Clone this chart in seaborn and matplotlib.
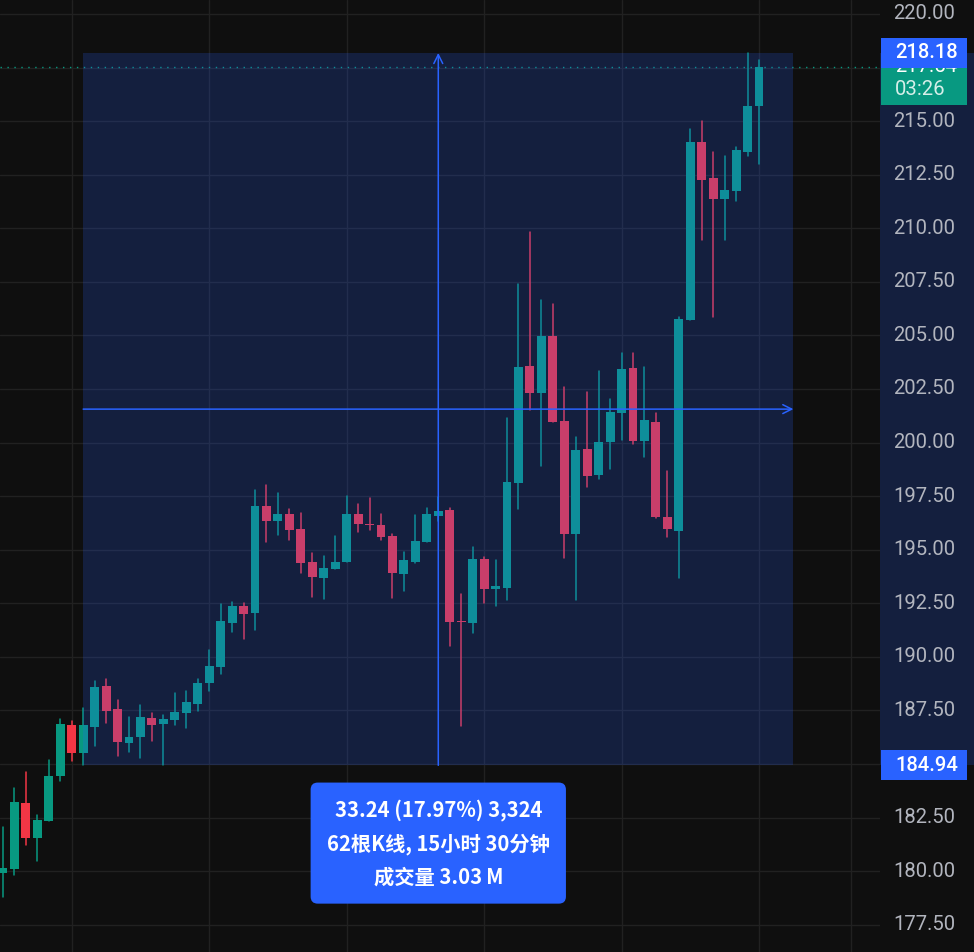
import numpy as np
import pandas as pd
import matplotlib
matplotlib.use("Agg")
import matplotlib.pyplot as plt
import seaborn as sns
from matplotlib.patches import Rectangle

# ---------------- data ----------------
opens = [179.92, 180.10, 183.18, 181.55, 182.34, 184.44, 186.82, 185.52, 186.73, 188.64,
         187.57, 185.98, 186.26, 187.15, 186.87, 187.06, 187.38, 187.80, 188.78, 189.53,
         191.58, 192.38, 192.05, 197.04, 196.34, 196.67, 195.97, 194.43, 193.68, 194.10,
         194.43, 196.67, 196.20, 196.15, 195.64, 193.87, 194.43, 195.36, 196.57, 196.86,
         191.68, 191.58, 194.57, 193.17, 193.22, 198.12, 203.57, 202.31, 204.97, 201.01,
         195.74, 199.70, 198.49, 200.03, 201.38, 203.48, 200.07, 200.96, 196.53, 195.88,
         205.72, 214.03, 212.35, 211.37, 211.74, 213.56, 215.71]
highs = [182.06, 183.88, 184.63, 182.62, 185.19, 187.10, 187.01, 187.62, 188.88, 188.97,
         187.99, 187.20, 187.76, 187.38, 187.29, 188.32, 188.41, 188.97, 190.32, 192.47,
         192.56, 192.52, 197.79, 198.02, 197.65, 196.90, 196.72, 194.85, 194.71, 195.64,
         197.51, 197.13, 197.41, 196.67, 195.74, 194.89, 196.62, 196.95, 197.46, 196.95,
         192.94, 195.13, 194.66, 194.52, 201.15, 207.40, 209.83, 206.65, 206.47, 202.59,
         200.26, 202.36, 203.34, 202.03, 204.18, 204.18, 203.53, 201.38, 198.67, 205.86,
         214.63, 215.01, 213.56, 213.37, 213.79, 218.18, 217.85]
lows = [178.80, 179.82, 181.22, 180.48, 182.34, 184.21, 185.14, 184.94, 185.84, 186.92,
        185.38, 185.56, 185.28, 186.08, 184.96, 186.82, 186.68, 187.48, 188.41, 189.20,
        191.16, 190.84, 191.26, 195.36, 195.69, 195.45, 193.92, 192.80, 192.70, 194.10,
        194.43, 195.83, 195.92, 195.45, 192.75, 193.08, 194.38, 195.36, 196.34, 190.51,
        186.78, 191.12, 192.52, 192.38, 192.66, 196.90, 201.52, 198.91, 200.96, 194.62,
        192.66, 197.93, 198.30, 198.77, 200.12, 199.93, 199.33, 196.48, 195.60, 193.68,
        205.72, 209.45, 205.86, 209.45, 211.27, 213.37, 213.00]
closes = [180.15, 183.23, 181.55, 182.39, 184.44, 186.87, 185.52, 186.82, 188.60, 187.48,
          186.03, 186.26, 187.20, 186.82, 187.10, 187.43, 187.90, 188.78, 189.58, 191.68,
          192.38, 192.00, 197.04, 196.34, 196.67, 195.92, 194.38, 193.73, 194.15, 194.43,
          196.67, 196.20, 196.15, 195.60, 193.92, 194.52, 195.41, 196.67, 196.81, 191.63,
          191.63, 194.57, 193.17, 193.31, 198.16, 203.53, 202.31, 204.97, 200.96, 195.74,
          199.65, 198.44, 200.03, 201.43, 203.43, 200.07, 201.05, 196.53, 195.97, 205.77,
          214.03, 212.25, 211.37, 211.79, 213.65, 215.71, 217.54]

price_ticks = [177.50, 180.00, 182.50, 185.00, 187.50, 190.00, 192.50, 195.00, 197.50,
               200.00, 202.50, 205.00, 207.50, 210.00, 212.50, 215.00, 217.50, 220.00]
time_grid_bars = [6, 18, 30, 42, 54, 66, 74]

range_start_bar, range_end_bar = 7, 69
range_low, range_high = 184.94, 218.18
last_price = 217.54
countdown = "03:26"
measure_lines = ["33.24 (17.97%) 3,324", "62根K线, 15小时 30分钟", "成交量 3.03\u2009M"]

# ---------------- style ----------------
BG = "#0f0f0f"
UP = "#089981"
DOWN = "#f23645"
BLUE = "#2962ff"
RANGE_FILL = (41 / 255, 98 / 255, 1.0, 0.2)
GRID = "#212121"
LABEL = "#b2b5be"

sns.set_theme(style="dark", rc={"axes.facecolor": BG, "figure.facecolor": BG})
plt.rcParams["font.family"] = ["Roboto", "DejaVu Sans"]

df = pd.DataFrame({"open": opens, "high": highs, "low": lows, "close": closes})
df["bar"] = np.arange(len(df))
df["dir"] = np.where(df["close"] >= df["open"], "up", "down")
palette = {"up": UP, "down": DOWN}

fig = plt.figure(figsize=(9.74, 9.52), dpi=100, facecolor=BG)
ax = fig.add_axes([0, 0, 880 / 974, 1])
ax.set_facecolor(BG)
ylim = (176.23, 220.65)
ax.set_xlim(-0.26, 76.56)
ax.set_ylim(*ylim)
for s in ax.spines.values():
    s.set_visible(False)

# grid
for p in price_ticks:
    ax.axhline(p, color=GRID, lw=1, zorder=0)
for b in time_grid_bars:
    ax.axvline(b, color=GRID, lw=1, zorder=0)

# wicks through seaborn (one line per bar)
wick = pd.concat([df[["bar", "dir"]].assign(price=df["low"]),
                  df[["bar", "dir"]].assign(price=df["high"])])
sns.lineplot(data=wick, x="bar", y="price", units="bar", estimator=None,
             hue="dir", palette=palette, lw=1.1, legend=False, ax=ax, zorder=2,
             sort=False)

# bodies
body_bottom = np.minimum(df["open"], df["close"])
body_h = np.maximum((df["close"] - df["open"]).abs(), 0.06)
ax.bar(df["bar"], body_h, bottom=body_bottom, width=0.78,
       color=[palette[d] for d in df["dir"]], linewidth=0, zorder=3)

ax.set_xlabel("")
ax.set_ylabel("")
ax.set_xticks([])
ax.set_yticks([])

# last price dotted line
ax.axhline(last_price, color=UP, lw=1, ls=(0, (1, 4)), zorder=1)

# date & price range tool
ax.add_patch(Rectangle((range_start_bar, range_low), range_end_bar - range_start_bar,
                       range_high - range_low, fc=RANGE_FILL, ec="none", zorder=4))
mid_bar = (range_start_bar + range_end_bar) / 2
mid_price = (range_low + range_high) / 2
arrow_kw = dict(arrowstyle="->", color=BLUE, lw=1.1, shrinkA=0, shrinkB=0, mutation_scale=16)
ax.annotate("", xy=(mid_bar, range_high), xytext=(mid_bar, range_low),
            arrowprops=arrow_kw, zorder=5)
ax.annotate("", xy=(range_end_bar, mid_price), xytext=(range_start_bar, mid_price),
            arrowprops=arrow_kw, zorder=5)

ax.annotate("\n".join(measure_lines), xy=(mid_bar, range_low), xytext=(0, -24.5),
            textcoords="offset points", ha="center", va="top", fontsize=14.6,
            color="white", family=["Noto Sans CJK SC", "DejaVu Sans"], weight="bold",
            linespacing=1.68, annotation_clip=False, zorder=7,
            bbox=dict(boxstyle="round,pad=0.8,rounding_size=0.35", fc=BLUE, ec="none"))

# ---------------- price scale ----------------
ax2 = fig.add_axes([880 / 974, 0, 94 / 974, 1])
ax2.set_facecolor(BG)
ax2.set_xlim(0, 94)
ax2.set_ylim(*ylim)
ax2.set_xticks([])
ax2.set_yticks([])
for s in ax2.spines.values():
    s.set_visible(False)
ax2.axhspan(range_low, range_high, fc=RANGE_FILL, ec="none", zorder=1)

half = 0.7
covered = [(range_high - half - 0.3, range_high + half + 0.3),
           (last_price - 1.77 - 0.3, last_price + half),
           (range_low - half - 0.3, range_low + half + 0.3)]
for p in price_ticks:
    if any(lo < p < hi for lo, hi in covered):
        continue  # hidden behind the price labels, as in the reference
    ax2.text(13, p, f"{p:.2f}", ha="left", va="center", color=LABEL, fontsize=14.6, zorder=2)

# last price (green) label with countdown
ax2.add_patch(Rectangle((1, last_price - 1.77), 86, 1.77 + half, fc=UP, ec="none", zorder=3))
ax2.text(15, last_price, f"{last_price:.2f}", ha="left", va="center", color="white",
         fontsize=14.6, zorder=4)
ax2.text(15, last_price - 1.08, countdown, ha="left", va="center", color="#d6efe9",
         fontsize=14.6, zorder=4)
# range high / low labels
for v in (range_high, range_low):
    ax2.add_patch(Rectangle((1, v - half), 86, 2 * half, fc=BLUE, ec="none", zorder=5))
    ax2.text(15, v, f"{v:.2f}", ha="left", va="center", color="white",
             fontsize=14.6, weight="medium", zorder=6)

fig.savefig("out.png", dpi=100, facecolor=BG)
